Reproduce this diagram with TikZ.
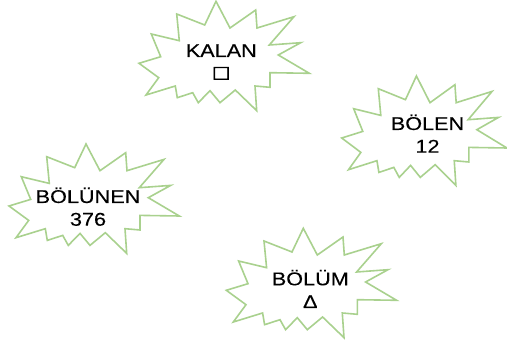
\documentclass[tikz,border=0pt]{standalone}
\usepackage{fontspec}
\setmainfont[FakeBold=0.2]{Liberation Sans}
\newfontfamily\squarefont[FakeBold=2.5]{Liberation Sans}
\tikzset{
  burstline/.style={draw=burstgreen,line width=1.6pt,line join=miter,miter limit=10,fill=white},
  burstlabel/.style={font=\fontsize{18.5}{22.7}\selectfont,align=center,inner sep=0pt,text=black,xscale=1.17,transform shape,anchor=base}
}
\definecolor{burstgreen}{HTML}{A9D18E}
\newcommand{\burstshape}{(86,1.3) -- (100,28) -- (125.7,10) -- (127,28) -- (164,16.7) -- (139.3,45) -- (170.7,42.7) -- (148.3,55) -- (179.3,73.3) -- (140,72.7) -- (140,87.3) -- (125,86) -- (126.7,110.7) -- (105.3,90) -- (90,102.7) -- (80,90.7) -- (68.3,102.7) -- (62.7,92.7) -- (47.3,97.7) -- (45.3,86) -- (16,95) -- (28.7,77.7) -- (9,63.3) -- (30.7,56.7) -- (21.3,34) -- (49.3,40.7) -- (46.7,14) -- (74.7,25) -- cycle}
\begin{document}
\begin{tikzpicture}[x=1pt,y=-1pt]
\useasboundingbox (0,0) rectangle (507,344);
\begin{scope}[shift={(130,0)}]
  \path[burstline] \burstshape;
\end{scope}
\begin{scope}[shift={(333,74.7)},xscale=.97]
  \path[burstline] \burstshape;
\end{scope}
\begin{scope}[shift={(0,142.7)}]
  \path[burstline] \burstshape;
\end{scope}
\begin{scope}[shift={(217.3,227)}]
  \path[burstline] \burstshape;
\end{scope}
\node[burstlabel] (kalan) at (221.3,79.7) {KALAN\\{\squarefont\fontsize{21}{22.7}\selectfont □}};
\node[burstlabel] (bolen) at (427.5,152.7) {BÖLEN\\12};
\node[burstlabel] (bolunen) at (88,225.7) {BÖLÜNEN\\376};
\node[burstlabel] (bolum) at (310.3,308) {BÖLÜM\\Δ};
\end{tikzpicture}
\end{document}
